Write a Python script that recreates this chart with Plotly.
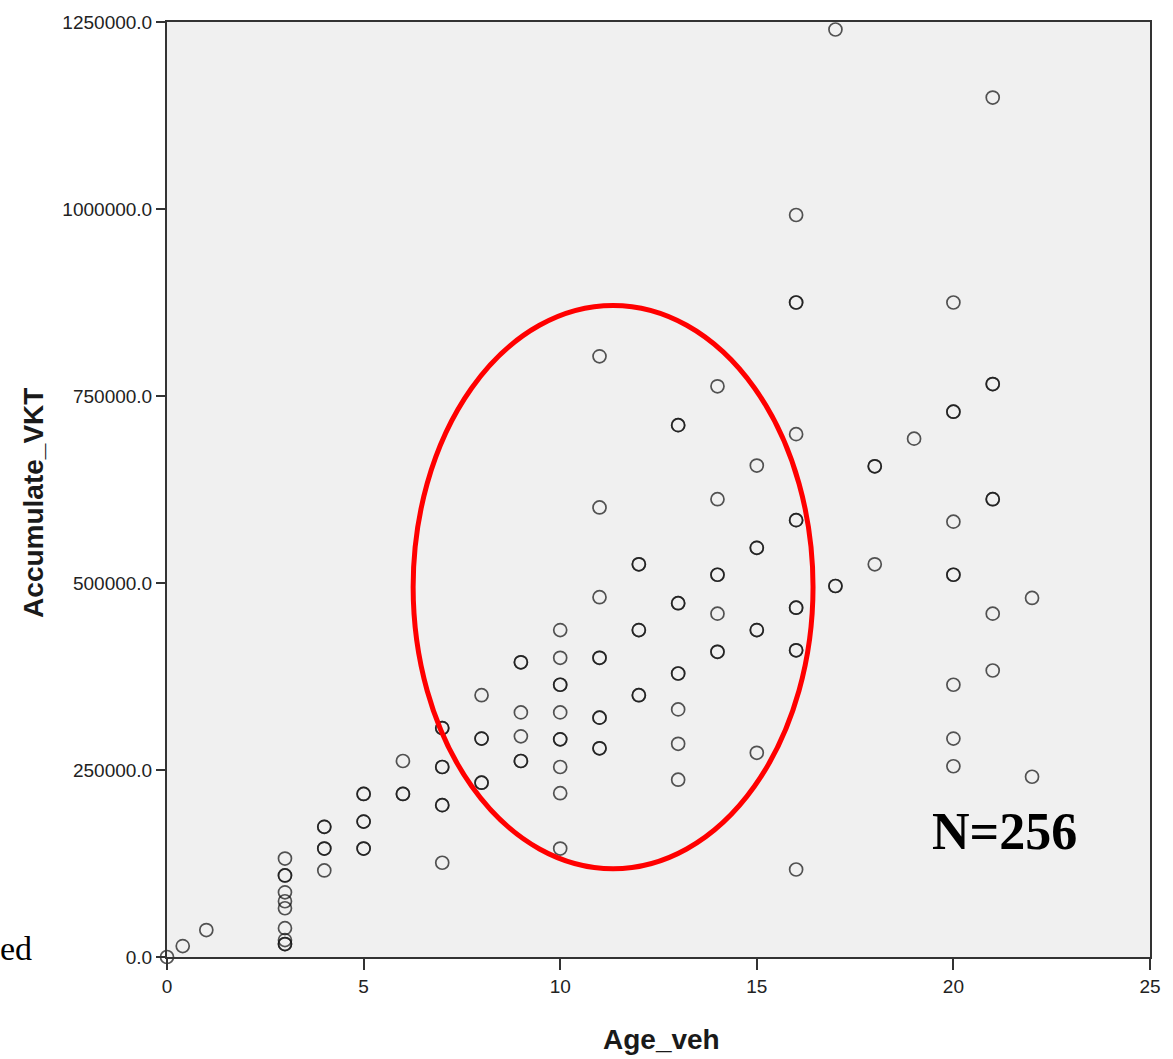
import plotly.graph_objects as go

# Vehicle age (years) and accumulated VKT; repeated entries are overlapping cases
age_veh = [
    0, 0.4, 1,
    3, 3, 3, 3, 3, 3, 3, 3, 3, 3,
    4, 4, 4, 4, 4,
    5, 5, 5, 5, 5, 5,
    6, 6, 6,
    7, 7, 7, 7, 7, 7, 7,
    8, 8, 8, 8, 8,
    9, 9, 9, 9, 9, 9,
    10, 10, 10, 10, 10, 10, 10, 10, 10, 10,
    11, 11, 11, 11, 11, 11, 11, 11, 11,
    12, 12, 12, 12, 12, 12,
    13, 13, 13, 13, 13, 13, 13, 13, 13,
    14, 14, 14, 14, 14, 14, 14,
    15, 15, 15, 15, 15, 15,
    16, 16, 16, 16, 16, 16, 16, 16, 16, 16, 16,
    17, 17, 17,
    18, 18, 18,
    19,
    20, 20, 20, 20, 20, 20, 20, 20, 20,
    21, 21, 21, 21, 21, 21, 21,
    22, 22,
]
accumulate_vkt = [
    0, 14600, 36000,
    131600, 109000, 109000, 86400, 74500, 65200, 38600, 22600, 17300, 17300,
    174000, 174000, 145000, 145000, 115700,
    218000, 218000, 181000, 181000, 145000, 145000,
    262000, 218000, 218000,
    306000, 306000, 254000, 254000, 203000, 203000, 126000,
    350000, 292000, 292000, 233000, 233000,
    394000, 394000, 327000, 295000, 262000, 262000,
    437000, 400000, 364000, 364000, 327000, 291000, 291000, 254000, 219000, 145000,
    803000, 601000, 481000, 400000, 400000, 320000, 320000, 279000, 279000,
    525000, 525000, 437000, 437000, 350000, 350000,
    711000, 711000, 473000, 473000, 379000, 379000, 331000, 285000, 237000,
    763000, 612000, 511000, 511000, 459000, 408000, 408000,
    657000, 547000, 547000, 437000, 437000, 273000,
    992000, 875000, 875000, 699000, 584000, 584000, 467000, 467000, 410000, 410000, 117000,
    1240000, 496000, 496000,
    656000, 656000, 525000,
    693000,
    875000, 729000, 729000, 582000, 511000, 511000, 364000, 292000, 255000,
    1149000, 766000, 766000, 612000, 612000, 459000, 383000,
    480000, 241000,
]

x_ticks = [0, 5, 10, 15, 20, 25]
y_ticks = [0, 250000, 500000, 750000, 1000000, 1250000]
y_tick_labels = ["0.0", "250000.0", "500000.0", "750000.0", "1000000.0", "1250000.0"]

# highlighted region (ellipse bounds in data units)
ellipse_x = [6.26, 16.43]
ellipse_y = [118000, 871000]
n_label = "N=256"

sans = "Liberation Sans, Arial, sans-serif"
serif = "Liberation Serif, Times New Roman, serif"

fig = go.Figure()
fig.add_trace(go.Scatter(
    x=age_veh, y=accumulate_vkt, mode="markers",
    marker=dict(symbol="circle-open", size=13, color="rgba(20,20,20,0.72)",
                line=dict(width=1.7, color="rgba(20,20,20,0.72)")),
    showlegend=False, hoverinfo="x+y", cliponaxis=False,
))

fig.add_shape(type="circle", xref="x", yref="y",
              x0=ellipse_x[0], x1=ellipse_x[1], y0=ellipse_y[0], y1=ellipse_y[1],
              line=dict(color="#ff0000", width=5))

fig.add_annotation(x=21.3, y=167500, xref="x", yref="y", text="<b>" + n_label + "</b>",
                   showarrow=False, font=dict(family=serif, size=52, color="black"))
fig.add_annotation(x=-0.135, y=0.009, xref="paper", yref="paper", text="ed",
                   xanchor="right", yanchor="middle", showarrow=False,
                   font=dict(family=serif, size=34, color="black"))
fig.add_annotation(x=0.503, y=-0.088, xref="paper", yref="paper", text="<b>Age_veh</b>",
                   xanchor="center", yanchor="middle", showarrow=False,
                   font=dict(family=sans, size=28, color="#1a1a1a"))
fig.add_annotation(x=-0.136, y=0.486, xref="paper", yref="paper", text="<b>Accumulate_VKT</b>",
                   xanchor="center", yanchor="middle", showarrow=False, textangle=-90,
                   font=dict(family=sans, size=28, color="#1a1a1a"))

fig.update_layout(
    width=1173, height=1059,
    margin=dict(l=167, r=20, t=17, b=102),
    paper_bgcolor="white", plot_bgcolor="#f0f0f0",
    font=dict(family=sans, size=19, color="#222"),
)
fig.update_xaxes(range=[0, 25], tickvals=x_ticks, ticktext=[str(v) for v in x_ticks],
                 showgrid=False, zeroline=False, showline=True, linecolor="#333", linewidth=2,
                 mirror=True, ticks="outside", ticklen=11, tickwidth=2, tickcolor="#333",
                 tickfont=dict(size=19))
fig.update_yaxes(range=[0, 1250000], tickvals=y_ticks, ticktext=y_tick_labels,
                 showgrid=False, zeroline=False, showline=True, linecolor="#333", linewidth=2,
                 mirror=True, ticks="outside", ticklen=9, tickwidth=2, tickcolor="#333",
                 tickfont=dict(size=19))

fig.write_html("out.html")
